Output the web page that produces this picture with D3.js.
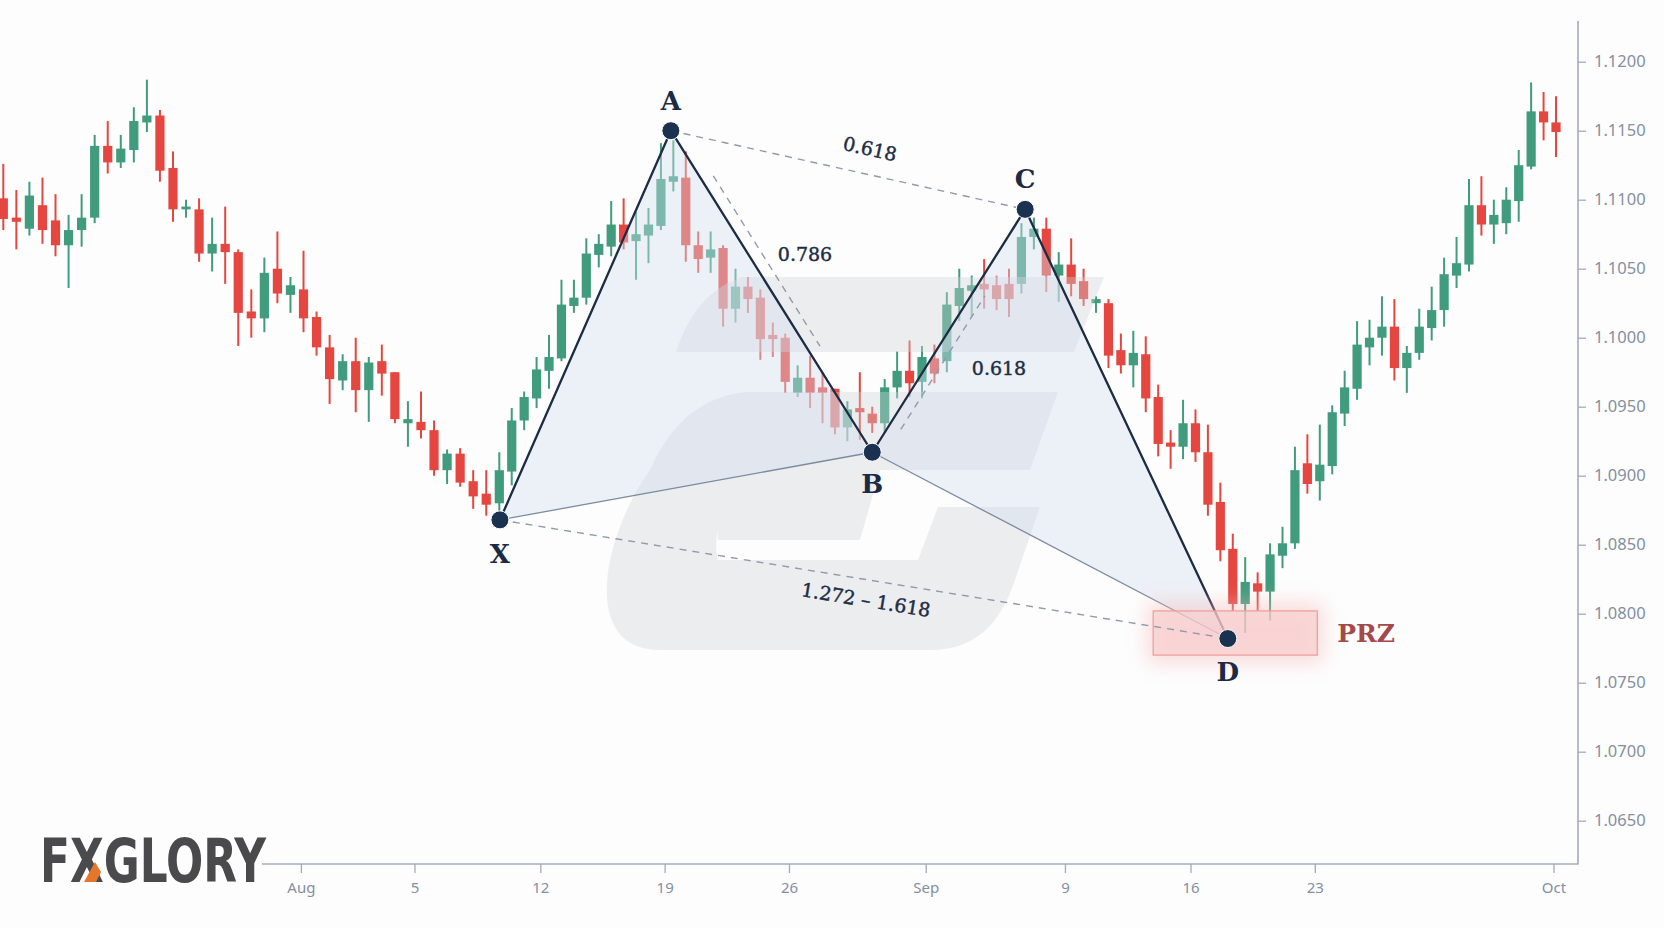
<!DOCTYPE html>
<html><head><meta charset="utf-8">
<script src="https://cdn.jsdelivr.net/npm/d3@7"></script>
<style>html,body{margin:0;padding:0;background:#fdfdfd;}svg{display:block;}</style>
</head><body>
<svg id="chart" width="1664" height="928"></svg>
<script>
// ---------- data ----------
const opens  = [1.1101,1.1087,1.1079,1.1096,1.1085,1.1067,1.1078,1.1087,1.1139,1.1127,1.1136,1.1156,1.1161,1.1123,1.1093,1.1093,1.1061,1.1068,1.1062,1.1019,
1.1014,1.1050,1.1031,1.1035,1.1015,1.0993,1.0969,1.0983,1.0962,1.0983,1.0975,1.0938,1.0939,1.0933,1.0904,1.0916,1.0896,1.0887,1.0880,1.0903,
1.0940,1.0956,1.0976,1.0985,1.1023,1.1029,1.1060,1.1066,1.1082,1.1070,1.1074,1.1081,1.1113,1.1116,1.1067,1.1058,1.1065,1.1021,1.1037,1.1029,
1.1002,1.1000,1.0960,1.0971,1.0964,1.0963,1.0935,1.0949,1.0945,1.0938,1.0964,1.0976,1.0968,1.0985,1.0983,1.1023,1.1034,1.1039,1.1038,1.1039,
1.1039,1.1073,1.1079,1.1045,1.1053,1.1041,1.1025,1.1025,1.0991,1.0980,1.0988,1.0957,1.0924,1.0921,1.0938,1.0917,1.0881,1.0847,1.0807,1.0822,
1.0816,1.0842,1.0851,1.0909,1.0896,1.0907,1.0945,1.0963,1.0993,1.1000,1.1008,1.0978,1.0989,1.1007,1.1020,1.1045,1.1053,1.1096,1.1082,1.1083,
1.1099,1.1124,1.1164,1.1156];
const highs  = [1.1126,1.1107,1.1113,1.1116,1.1104,1.1089,1.1104,1.1147,1.1157,1.1147,1.1167,1.1187,1.1165,1.1135,1.1100,1.1101,1.1087,1.1095,1.1064,1.1035,
1.1058,1.1077,1.1044,1.1063,1.1019,1.1002,1.0988,1.1000,1.0986,1.0995,1.0975,1.0954,1.0961,1.0940,1.0919,1.0920,1.0904,1.0904,1.0917,1.0949,
1.0961,1.0986,1.1002,1.1042,1.1042,1.1072,1.1075,1.1099,1.1101,1.1091,1.1094,1.1141,1.1143,1.1135,1.1077,1.1077,1.1067,1.1050,1.1044,1.1035,
1.1011,1.1003,1.0980,1.0987,1.0975,1.0963,1.0954,1.0975,1.0950,1.0970,1.0990,1.0998,1.0994,1.0995,1.1033,1.1050,1.1045,1.1057,1.1045,1.1050,
1.1083,1.1087,1.1087,1.1062,1.1072,1.1050,1.1030,1.1028,1.1003,1.1005,1.1001,1.0966,1.0933,1.0955,1.0948,1.0937,1.0895,1.0858,1.0841,1.0830,
1.0851,1.0863,1.0921,1.0930,1.0937,1.0951,1.0976,1.1012,1.1013,1.1030,1.1028,1.0994,1.1021,1.1037,1.1058,1.1073,1.1115,1.1117,1.1100,1.1109,
1.1136,1.1185,1.1178,1.1175];
const lows   = [1.1078,1.1064,1.1074,1.1068,1.1059,1.1036,1.1066,1.1083,1.1119,1.1123,1.1127,1.1149,1.1113,1.1084,1.1087,1.1055,1.1048,1.1039,1.0994,1.1000,
1.1004,1.1025,1.1018,1.1004,1.0987,1.0952,1.0962,1.0946,1.0939,1.0958,1.0938,1.0921,1.0927,1.0900,1.0894,1.0892,1.0876,1.0871,1.0874,1.0893,
1.0933,1.0949,1.0963,1.0983,1.1018,1.1024,1.1051,1.1059,1.1064,1.1042,1.1054,1.1078,1.1106,1.1055,1.1047,1.1047,1.1008,1.1011,1.1018,1.0984,
1.0986,1.0960,1.0957,1.0949,1.0938,1.0930,1.0925,1.0926,1.0931,1.0931,1.0956,1.0957,1.0956,1.0967,1.0975,1.1012,1.1015,1.1021,1.1020,1.1015,
1.1032,1.1064,1.1033,1.1026,1.1030,1.1023,1.1018,1.0978,1.0974,1.0964,1.0946,1.0914,1.0905,1.0912,1.0910,1.0871,1.0838,1.0802,1.0786,1.0802,
1.0795,1.0833,1.0847,1.0887,1.0882,1.0901,1.0936,1.0955,1.0980,1.0987,1.0969,1.0960,1.0984,1.0998,1.1008,1.1036,1.1048,1.1074,1.1068,1.1075,
1.1084,1.1122,1.1143,1.1131];
const closes = [1.1086,1.1084,1.1103,1.1078,1.1067,1.1078,1.1087,1.1139,1.1127,1.1137,1.1157,1.1161,1.1121,1.1093,1.1095,1.1061,1.1068,1.1062,1.1018,1.1014,
1.1047,1.1032,1.1038,1.1014,1.0993,1.0970,1.0983,1.0962,1.0982,1.0974,1.0941,1.0941,1.0933,1.0904,1.0916,1.0895,1.0885,1.0879,1.0904,1.0940,
1.0957,1.0977,1.0986,1.1024,1.1029,1.1061,1.1068,1.1082,1.1069,1.1075,1.1082,1.1115,1.1117,1.1067,1.1057,1.1064,1.1021,1.1037,1.1028,1.0999,
1.0999,1.0968,1.0971,1.0960,1.0960,1.0935,1.0948,1.0946,1.0938,1.0964,1.0976,1.0967,1.0986,1.0974,1.1024,1.1036,1.1038,1.1035,1.1028,1.1028,
1.1073,1.1079,1.1045,1.1053,1.1039,1.1028,1.1028,1.0987,1.0980,1.0989,1.0956,1.0923,1.0921,1.0938,1.0917,1.0879,1.0846,1.0807,1.0823,1.0816,
1.0843,1.0851,1.0904,1.0894,1.0908,1.0946,1.0964,1.0995,1.1000,1.1008,1.0978,1.0989,1.1008,1.1020,1.1046,1.1054,1.1096,1.1082,1.1089,1.1100,
1.1125,1.1164,1.1156,1.1149];

const priceTicks = [1.065,1.070,1.075,1.080,1.085,1.090,1.095,1.100,1.105,1.110,1.115,1.120];
const dateLabels = ["Aug","5","12","19","26","Sep","9","16","23","Oct"];
const dateIndex  = [22.8,31.5,41.3,51.3,61.3,72.3,83.5,93.6,103.6,122.8];

const pivotNames = ["X","A","B","C","D"];
const pivotIndex = [38.05,51.8,68.0,80.3,96.6];
const pivotPrice = [1.0868,1.1150,1.0917,1.1093,1.0782];
const ratioLabels = ["0.618","0.786","0.618","1.272 – 1.618"];
const przIndex = [90.6,103.8];
const przPrice = [1.0770,1.0802];

// ---------- setup ----------
const svg = d3.select("#chart");
const W = 1664, H = 928;
svg.append("rect").attr("width",W).attr("height",H).attr("fill","#fdfdfd");

const x = d3.scaleLinear().domain([0,38,123]).range([3.3,499.3,1556]);
const y = d3.scaleLinear().domain([1.065,1.12]).range([820.7,61.7]);

const defs = svg.append("defs");
const glow = defs.append("filter").attr("id","glow").attr("x","-30%").attr("y","-60%").attr("width","160%").attr("height","220%");
glow.append("feGaussianBlur").attr("stdDeviation",10);
const soft = defs.append("filter").attr("id","soft");
soft.append("feGaussianBlur").attr("stdDeviation",0.4);

const GREEN = "#3f9c7c", RED = "#e5463f";
const candles = opens.map((o,i)=>({i,o,h:highs[i],l:lows[i],c:closes[i]}));

// candles
const cg = svg.append("g").attr("filter","url(#soft)");
cg.selectAll("line.wick").data(candles).join("line")
  .attr("x1",d=>x(d.i)).attr("x2",d=>x(d.i))
  .attr("y1",d=>y(d.h)).attr("y2",d=>y(d.l))
  .attr("stroke",d=>d.c>=d.o?GREEN:RED).attr("stroke-width",2);
cg.selectAll("rect.body").data(candles).join("rect")
  .attr("x",d=>x(d.i)-4.6).attr("width",9.2)
  .attr("y",d=>y(Math.max(d.o,d.c)))
  .attr("height",d=>Math.max(2.5,Math.abs(y(d.o)-y(d.c))))
  .attr("fill",d=>d.c>=d.o?GREEN:RED);

// watermark (logo "G")
const wm = svg.append("g").attr("fill","#d2d5da").attr("opacity",0.38);
wm.append("path").attr("d","M742,277 L1104,277 L1074,352 L676,352 C688,314 708,289 742,277 Z");
wm.append("path").attr("d","M745,392 L1058,392 L1030,470 L880,470 L860,540 L718,540 C715,515 724,490 735,470 L650,470 C672,422 700,398 745,392 Z");
wm.append("path").attr("d","M650,470 L735,470 C722,505 712,540 718,560 L918,560 L938,507 L1040,507 L1015,580 C1000,625 975,650 930,650 L660,650 C612,650 600,610 610,560 C618,525 632,495 650,470 Z");

// pattern
const P = pivotNames.map((n,k)=>({n,px:x(pivotIndex[k]),py:y(pivotPrice[k])}));
const [X,A,B,C,D] = P;
const pg = svg.append("g");
pg.append("path").attr("d",`M${X.px},${X.py}L${A.px},${A.py}L${B.px},${B.py}Z`)
  .attr("fill","#d3e0ee").attr("fill-opacity",0.42);
pg.append("path").attr("d",`M${B.px},${B.py}L${C.px},${C.py}L${D.px},${D.py}Z`)
  .attr("fill","#d3e0ee").attr("fill-opacity",0.42);

// PRZ
svg.append("rect").attr("x",x(przIndex[0])-6).attr("y",y(przPrice[1])-8)
  .attr("width",x(przIndex[1])-x(przIndex[0])+12).attr("height",y(przPrice[0])-y(przPrice[1])+16)
  .attr("fill","#f6b9b9").attr("opacity",0.5).attr("filter","url(#glow)");
svg.append("rect").attr("x",x(przIndex[0])).attr("y",y(przPrice[1]))
  .attr("width",x(przIndex[1])-x(przIndex[0])).attr("height",y(przPrice[0])-y(przPrice[1]))
  .attr("fill","#f8cfcf").attr("fill-opacity",0.6).attr("stroke","#ef9f9f").attr("stroke-width",1.3);

// dashed lines
const dash = svg.append("g").attr("stroke","#8f9aab").attr("stroke-width",1.4).attr("stroke-dasharray","7,6").attr("fill","none");
dash.append("line").attr("x1",A.px).attr("y1",A.py).attr("x2",C.px).attr("y2",C.py);
dash.append("line").attr("x1",X.px).attr("y1",X.py).attr("x2",D.px).attr("y2",D.py);
function offsetSeg(p,q,t0,t1,off){
  const dx=q.px-p.px, dy=q.py-p.py, L=Math.hypot(dx,dy);
  let nx=dy/L, ny=-dx/L; if(nx<0){nx=-nx;ny=-ny;}
  return [p.px+dx*t0+nx*off,p.py+dy*t0+ny*off,p.px+dx*t1+nx*off,p.py+dy*t1+ny*off];
}
let s1 = offsetSeg(A,B,0.16,0.69,12);
dash.append("line").attr("x1",s1[0]).attr("y1",s1[1]).attr("x2",s1[2]).attr("y2",s1[3]);
let s2 = offsetSeg(B,C,0.12,0.67,12);
dash.append("line").attr("x1",s2[0]).attr("y1",s2[1]).attr("x2",s2[2]).attr("y2",s2[3]);

// thin legs
pg.append("line").attr("x1",X.px).attr("y1",X.py).attr("x2",B.px).attr("y2",B.py).attr("stroke","#7c8ba0").attr("stroke-width",1.3);
pg.append("line").attr("x1",B.px).attr("y1",B.py).attr("x2",D.px).attr("y2",D.py).attr("stroke","#7c8ba0").attr("stroke-width",1.3);
// main legs
pg.append("path").attr("d",`M${X.px},${X.py}L${A.px},${A.py}L${B.px},${B.py}L${C.px},${C.py}L${D.px},${D.py}`)
  .attr("fill","none").attr("stroke","#1c2c45").attr("stroke-width",2.3).attr("stroke-linejoin","round");

// points
svg.append("g").selectAll("circle").data(P).join("circle")
  .attr("cx",d=>d.px).attr("cy",d=>d.py).attr("r",9)
  .attr("fill","#1b3150").attr("stroke","#fdfdfd").attr("stroke-width",1);
const labOff = {X:34,A:-30,B:32,C:-30,D:33};
svg.append("g").selectAll("text").data(P).join("text")
  .attr("x",d=>d.px).attr("y",d=>d.py+labOff[d.n]).attr("dy","0.35em")
  .attr("text-anchor","middle").attr("font-family","'DejaVu Serif', serif").attr("font-weight","bold")
  .attr("font-size",26).attr("fill","#1b2b45").text(d=>d.n);

// ratio labels
const rl = svg.append("g").attr("font-family","'DejaVu Serif', serif").attr("font-size",19).attr("fill","#1e2d45")
  .attr("stroke","#1e2d45").attr("stroke-width",0.45).attr("text-anchor","middle");
const angAC = Math.atan2(C.py-A.py,C.px-A.px)*180/Math.PI;
const angXD = Math.atan2(D.py-X.py,D.px-X.px)*180/Math.PI;
rl.append("text").attr("transform",`translate(870,149) rotate(${angAC})`).attr("dy","0.35em").text(ratioLabels[0]);
rl.append("text").attr("x",805).attr("y",254).attr("dy","0.35em").text(ratioLabels[1]);
rl.append("text").attr("x",999).attr("y",368).attr("dy","0.35em").text(ratioLabels[2]);
rl.append("text").attr("transform",`translate(866,600) rotate(${angXD})`).attr("dy","0.35em").text(ratioLabels[3]);

// PRZ label
svg.append("text").attr("x",x(przIndex[1])+20).attr("y",(y(przPrice[0])+y(przPrice[1]))/2).attr("dy","0.35em")
  .attr("font-family","'DejaVu Serif', serif").attr("font-weight","bold").attr("font-size",25)
  .attr("fill","#a54a4a").text("PRZ");

// axes
const AX = "#a3abbb", TX = "#858fa0";
const yAxis = d3.axisRight(y).tickValues(priceTicks).tickFormat(d3.format(".4f")).tickSize(8).tickPadding(8);
const yg = svg.append("g").attr("transform","translate(1578,0)").call(yAxis);
yg.select(".domain").remove();
yg.selectAll("line").attr("stroke",AX).attr("stroke-width",1.3);
yg.selectAll("text").attr("fill",TX).attr("font-family","'Noto Sans', sans-serif").attr("font-size",16.5);
svg.append("line").attr("x1",1578).attr("x2",1578).attr("y1",21).attr("y2",864.5).attr("stroke",AX).attr("stroke-width",1.6);

const xAxis = d3.axisBottom(x).tickValues(dateIndex).tickFormat((d,k)=>dateLabels[k]).tickSize(9).tickPadding(9);
const xg = svg.append("g").attr("transform","translate(0,864)").call(xAxis);
xg.select(".domain").remove();
xg.selectAll("line").attr("stroke",AX).attr("stroke-width",1.3);
xg.selectAll("text").attr("fill",TX).attr("font-family","'Noto Sans', sans-serif").attr("font-size",15);
svg.append("line").attr("x1",262).attr("x2",1578).attr("y1",864).attr("y2",864).attr("stroke",AX).attr("stroke-width",1.6);

// logo (scaled to fit its box)
const logo = svg.append("g");
const lt = logo.append("text").attr("x",0).attr("y",0)
  .attr("font-family","'DejaVu Sans Condensed','Liberation Sans Narrow',sans-serif")
  .attr("font-weight","bold").attr("font-size",60).attr("fill","#4a4a4c").text("FXGLORY");
const natW = lt.node().getComputedTextLength();
const sx = 226/natW;
lt.attr("transform",`translate(40,882) scale(${sx},1)`);
logo.append("path").attr("d","M84,882 L95,862 L101,872 L96,882 Z").attr("fill","#e5772b");
</script>
</body></html>
